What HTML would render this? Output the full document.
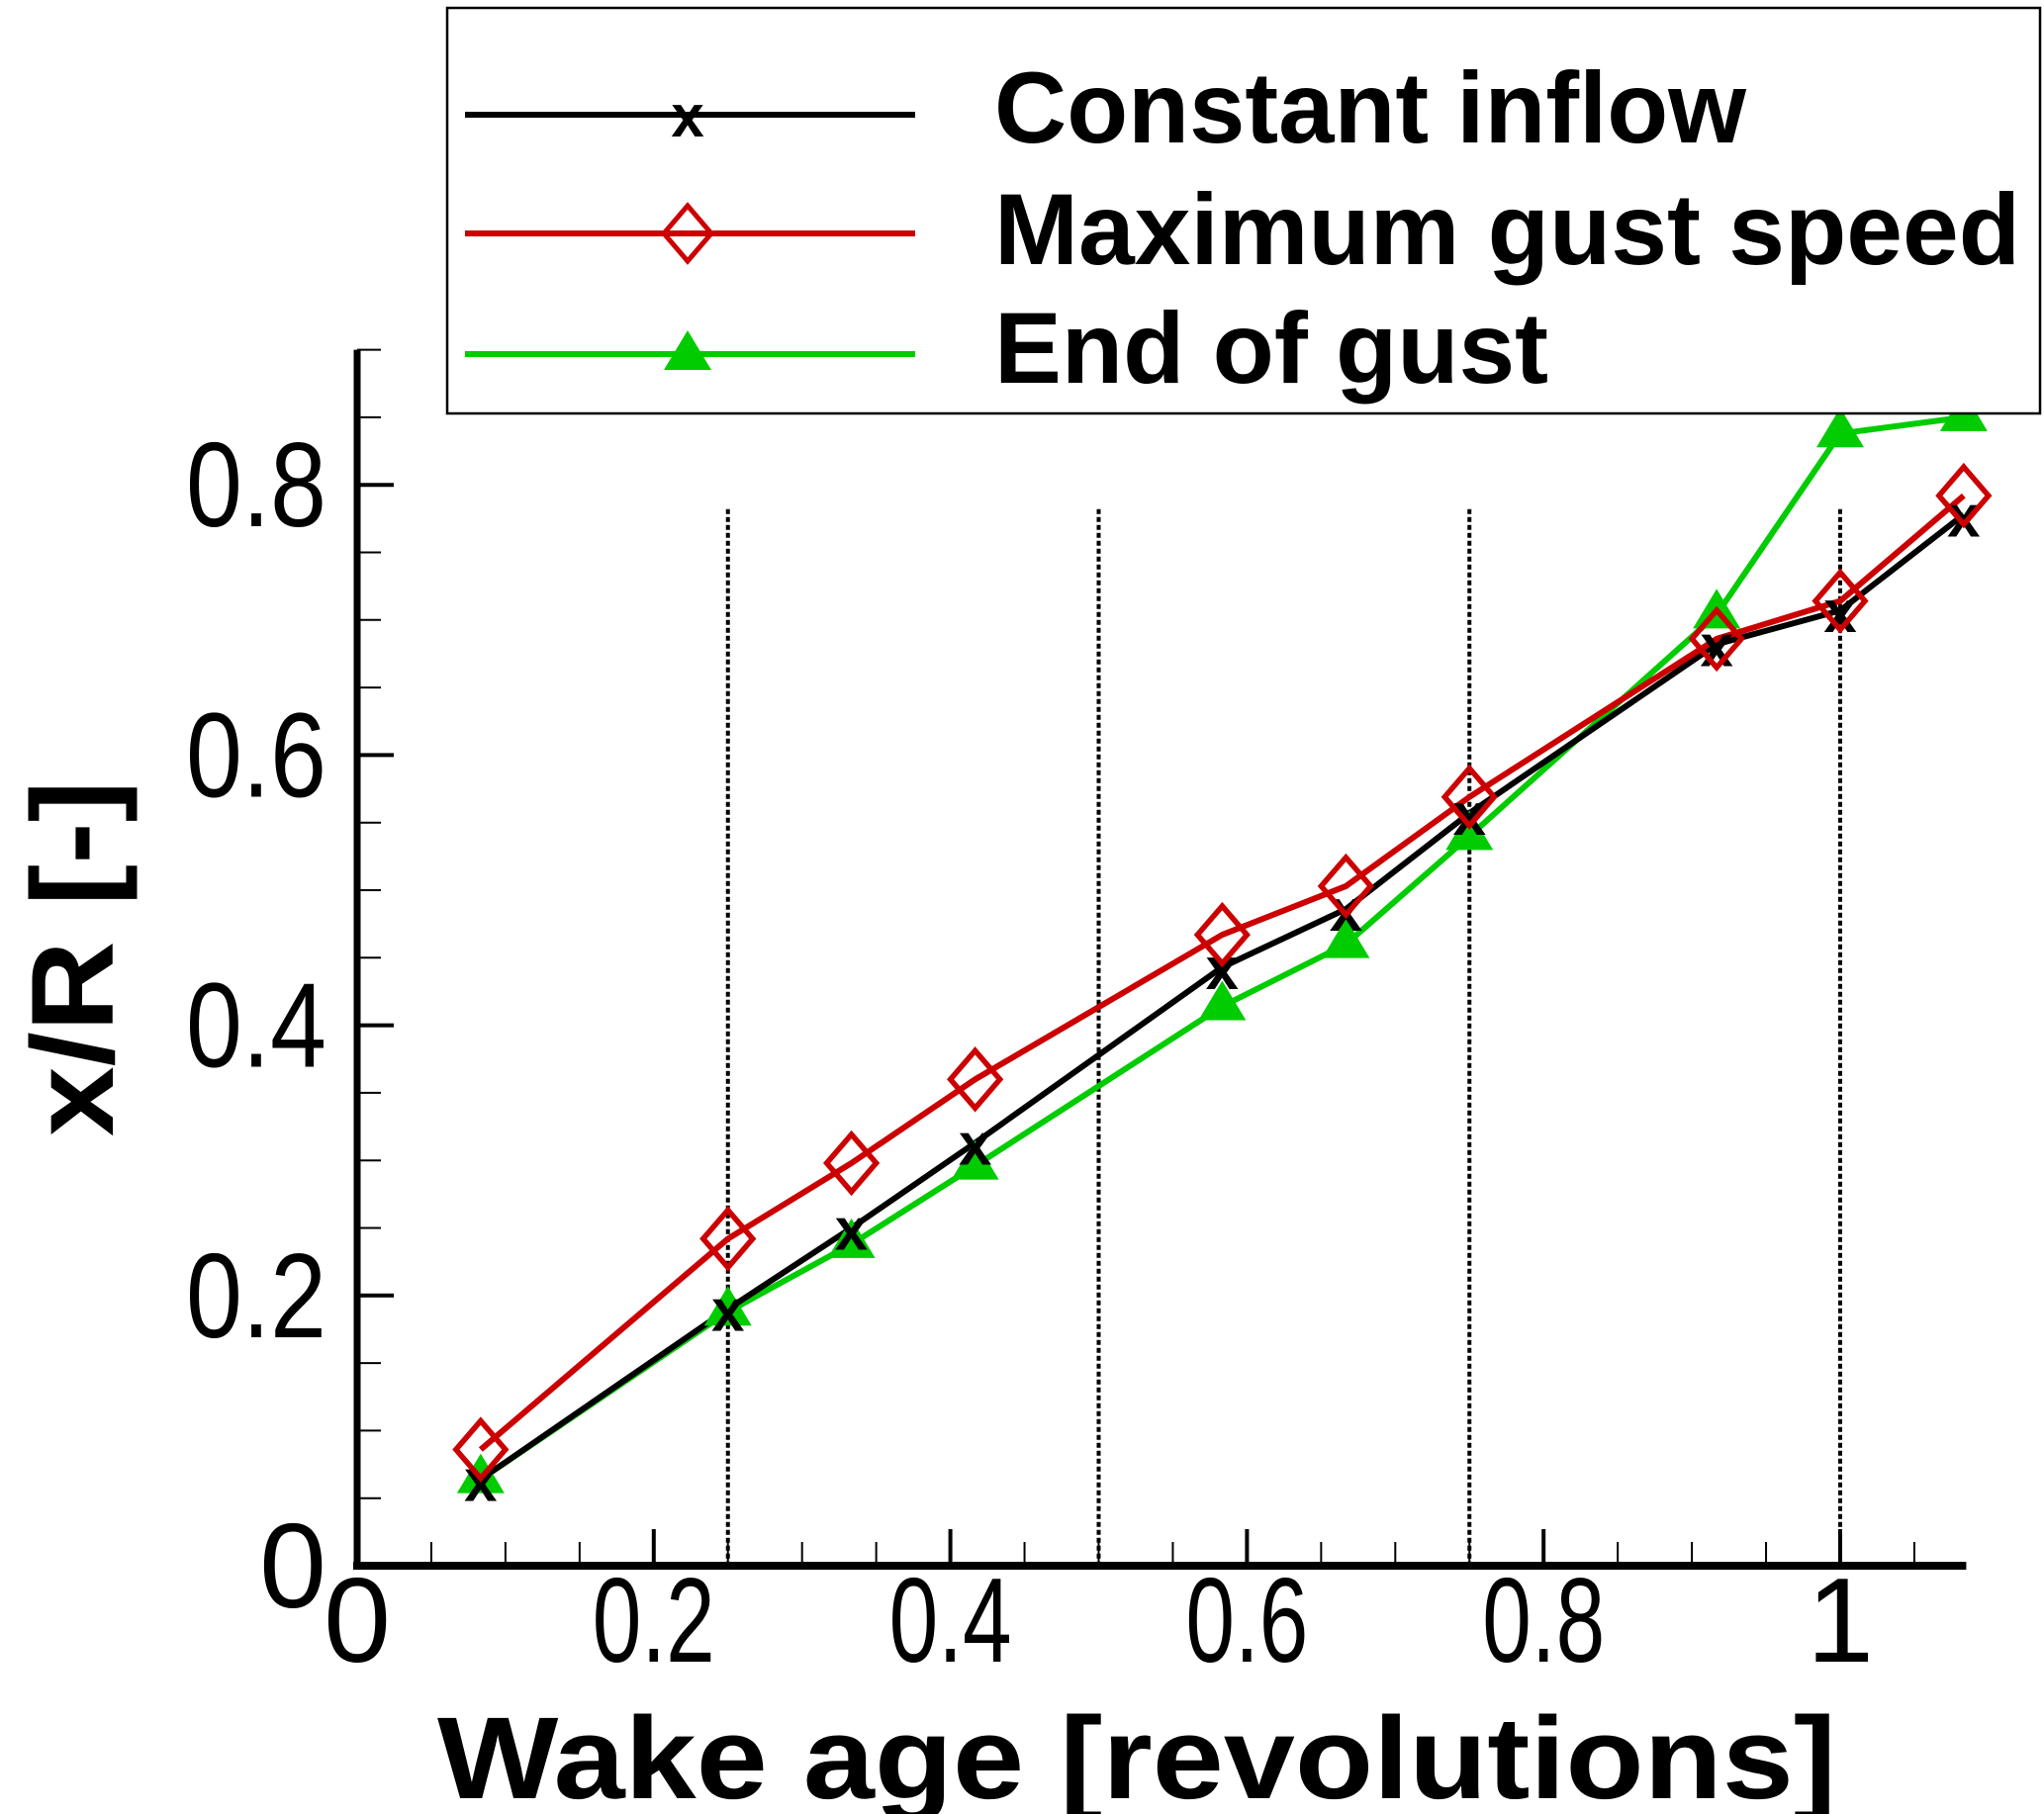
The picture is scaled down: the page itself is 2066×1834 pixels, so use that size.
<!DOCTYPE html>
<html><head><meta charset="utf-8"><style>
html,body{margin:0;padding:0;background:#fff;}
svg{display:block;}
text{font-family:"Liberation Sans",Arial,sans-serif;}
</style></head><body>
<svg id="chart" width="2066" height="1834" viewBox="0 0 2066 1834" xmlns="http://www.w3.org/2000/svg">
<g id="grid"></g>
<g id="axes"></g>
<g id="series"></g>
<text x="1149" y="1818" text-anchor="middle" font-size="118" font-weight="bold" textLength="1414" lengthAdjust="spacingAndGlyphs">Wake age [revolutions]</text>
<text x="0" y="0" transform="translate(114,969) rotate(-90)" text-anchor="middle" font-size="118" font-weight="bold" textLength="360" lengthAdjust="spacingAndGlyphs">x/R [-]</text>
<g>
<rect x="452" y="8" width="1610" height="410" fill="#fff" stroke="#000" stroke-width="2.5"/>
<g>
<line x1="470" y1="116" x2="925" y2="116" stroke="#000" stroke-width="6"/>
<text x="695" y="138" text-anchor="middle" font-size="60" font-weight="bold">x</text>
<text x="1005" y="144" font-size="102" font-weight="bold" textLength="760" lengthAdjust="spacingAndGlyphs">Constant inflow</text>
</g>
<g>
<line x1="470" y1="236" x2="925" y2="236" stroke="#cc0000" stroke-width="6"/>
<path d="M695 208 L719 236 L695 264 L671 236 Z" fill="none" stroke="#cc0000" stroke-width="5"/>
<text x="1005" y="267" font-size="102" font-weight="bold" textLength="1037" lengthAdjust="spacingAndGlyphs">Maximum gust speed</text>
</g>
<g>
<line x1="470" y1="358" x2="925" y2="358" stroke="#00cc00" stroke-width="6"/>
<path d="M695 334 L719 374 L671 374 Z" fill="#00cc00"/>
<text x="1005" y="387" font-size="102" font-weight="bold" textLength="560" lengthAdjust="spacingAndGlyphs">End of gust</text>
</g>
</g>
</svg>
<script>
const wakeAge = [0.0833, 0.25, 0.3333, 0.4167, 0.5833, 0.6667, 0.75, 0.9167, 1.0, 1.0833];
const constantInflow = [0.064, 0.19, 0.25, 0.313, 0.443, 0.486, 0.557, 0.682, 0.707, 0.778];
const maxGust = [0.086, 0.242, 0.298, 0.36, 0.467, 0.503, 0.569, 0.686, 0.714, 0.792];
const endGust = [0.064, 0.188, 0.238, 0.296, 0.414, 0.46, 0.54, 0.704, 0.838, 0.85];
const refLines = [0.25, 0.5, 0.75, 1.0];
const xTicks = [0, 0.2, 0.4, 0.6, 0.8, 1];
const xTickLabels = ["0", "0.2", "0.4", "0.6", "0.8", "1"];
const yTicks = [0, 0.2, 0.4, 0.6, 0.8];
const yTickLabels = ["0", "0.2", "0.4", "0.6", "0.8"];

const NS = "http://www.w3.org/2000/svg";
const X0 = 361, XS = 1499, Y0 = 1583, YS = 1366;
const xs = v => X0 + v * XS;
const ys = v => Y0 - v * YS;
function mk(tag, attrs, parent) {
  const e = document.createElementNS(NS, tag);
  for (const k in attrs) e.setAttribute(k, attrs[k]);
  parent.appendChild(e);
  return e;
}
const axes = document.getElementById('axes');
const grid = document.getElementById('grid');
const series = document.getElementById('series');

refLines.forEach(v => {
  const l = mk('line', {x1: xs(v), x2: xs(v), y1: ys(0.782), y2: ys(0), stroke: '#000', 'stroke-width': 4, 'stroke-dasharray': '5 3'}, grid);
  
  
});

const xa = mk('line', {x1: xs(0) - 4, x2: xs(1.085), y1: ys(0), y2: ys(0), stroke: '#000', 'stroke-width': 8}, axes);


const ya = mk('line', {x1: xs(0), x2: xs(0), y1: ys(0) + 4, y2: ys(0.9), stroke: '#000', 'stroke-width': 7}, axes);



for (let i = 1; i <= 21; i++) {
  const v = i * 0.05;
  const major = i % 4 === 0;
  mk('line', {x1: xs(v), x2: xs(v), y1: ys(0), y2: ys(0) - (major ? 37 : 24), stroke: '#000', 'stroke-width': major ? 4 : 2}, axes);
}
for (let i = 1; i <= 18; i++) {
  const v = i * 0.05;
  const major = i % 4 === 0;
  mk('line', {x1: xs(0), x2: xs(0) + (major ? 37 : 24), y1: ys(v), y2: ys(v), stroke: '#000', 'stroke-width': major ? 4 : 2}, axes);
}
xTicks.forEach((v, i) => {
  const t = mk('text', {x: xs(v), y: 1680, 'text-anchor': 'middle', 'font-size': 122}, axes);
  t.textContent = xTickLabels[i];
  
  
  if (xTickLabels[i].length > 1) { t.setAttribute('textLength', 124); t.setAttribute('lengthAdjust', 'spacingAndGlyphs'); }
});
yTicks.forEach((v, i) => {
  const t = mk('text', {x: 330, y: ys(v) + 42, 'text-anchor': 'end', 'font-size': 122}, axes);
  t.textContent = yTickLabels[i];
  
  
  if (yTickLabels[i].length > 1) { t.setAttribute('textLength', 142); t.setAttribute('lengthAdjust', 'spacingAndGlyphs'); }
});

function poly(vals, color, name) {
  const pts = wakeAge.map((x, i) => xs(x) + ',' + ys(vals[i])).join(' ');
  const p = mk('polyline', {points: pts, fill: 'none', stroke: color, 'stroke-width': 6, 'stroke-linejoin': 'round'}, series);
  
  
}
poly(endGust, '#00cc00', 'end-of-gust-line');
poly(constantInflow, '#000', 'constant-inflow-line');
poly(maxGust, '#cc0000', 'maximum-gust-line');

wakeAge.forEach((x, i) => {
  const cx = xs(x), cy = ys(endGust[i]);
  const m = mk('path', {d: `M${cx} ${cy-26} L${cx+24} ${cy+14} L${cx-24} ${cy+14} Z`, fill: '#00cc00'}, series);
  
  
});
wakeAge.forEach((x, i) => {
  const cx = xs(x), cy = ys(constantInflow[i]);
  const m = mk('text', {x: cx, y: cy + 22, 'text-anchor': 'middle', 'font-size': 60, 'font-weight': 'bold'}, series);
  m.textContent = 'x';
  
  
});
wakeAge.forEach((x, i) => {
  const cx = xs(x), cy = ys(maxGust[i]);
  const m = mk('path', {d: `M${cx} ${cy-29} L${cx+25} ${cy} L${cx} ${cy+29} L${cx-25} ${cy} Z`, fill: 'none', stroke: '#cc0000', 'stroke-width': 5.5}, series);
  
  
});
</script>
</body></html>
